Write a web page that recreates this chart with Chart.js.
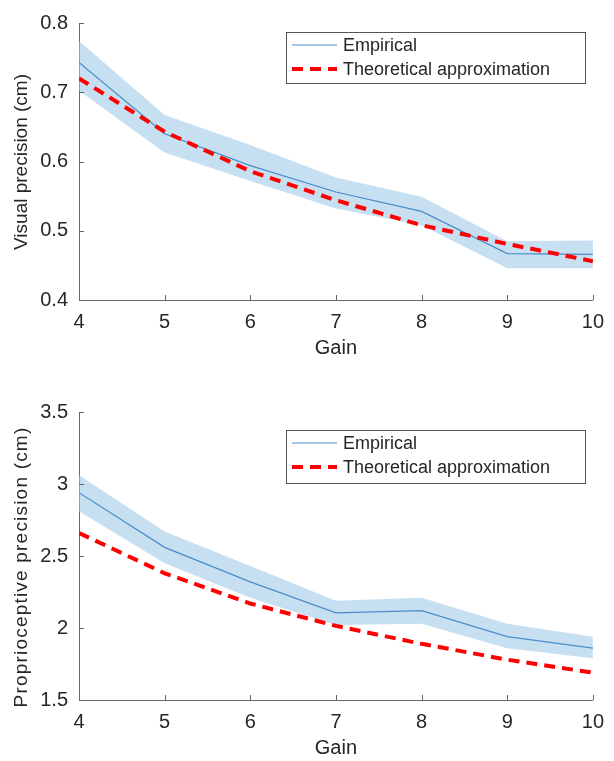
<!DOCTYPE html>
<html>
<head>
<meta charset="utf-8">
<script src="https://cdn.jsdelivr.net/npm/chart.js@4.4.1/dist/chart.umd.min.js"></script>
<style>
  body { margin: 0; background: #fff; }
  canvas { position: absolute; left: 0; }
</style>
</head>
<body>
<canvas id="visualChart" width="614" height="380" style="top:0"></canvas>
<canvas id="propChart" width="614" height="381" style="top:380px"></canvas>
<script>
// gain values on the x axis
const gains = [4, 5, 6, 7, 8, 9, 10]

// visual precision (cm)
const visualEmpirical = [0.743, 0.640, 0.594, 0.556, 0.528, 0.467, 0.466]
const visualUpper = [0.774, 0.667, 0.624, 0.577, 0.549, 0.485, 0.486]
const visualLower = [0.702, 0.613, 0.572, 0.532, 0.508, 0.446, 0.446]
const visualTheory = [0.720, 0.643, 0.586, 0.544, 0.508, 0.481, 0.456]
const visualTicks = [0.4, 0.5, 0.6, 0.7, 0.8]

// proprioceptive precision (cm)
const propEmpirical = [2.94, 2.56, 2.32, 2.105, 2.12, 1.94, 1.86]
const propUpper = [3.06, 2.67, 2.43, 2.19, 2.21, 2.03, 1.94]
const propLower = [2.81, 2.45, 2.21, 2.02, 2.03, 1.86, 1.79]
const propTheory = [2.66, 2.38, 2.17, 2.015, 1.89, 1.78, 1.69]
const propTicks = [1.5, 2, 2.5, 3, 3.5]

const FONT = "'Liberation Sans', Arial, sans-serif"
const TEXT = '#262626'
const AXIS = '#666'

const pts = ys => ys.map((y, i) => ({ x: gains[i], y: y }))

// tick marks pointing inward, like the original
const innerTicks = {
    id: 'innerTicks',
    afterDatasetsDraw(chart) {
        const c = chart.ctx
        const xs = chart.scales.x
        const ys = chart.scales.y
        c.save()
        c.strokeStyle = AXIS
        c.lineWidth = 1
        c.beginPath()
        xs.ticks.forEach(t => {
            const px = Math.round(xs.getPixelForValue(t.value)) + 0.5
            c.moveTo(px, ys.bottom)
            c.lineTo(px, ys.bottom - 5)
        })
        ys.ticks.forEach(t => {
            const py = Math.round(ys.getPixelForValue(t.value)) + 0.5
            c.moveTo(xs.left, py)
            c.lineTo(xs.left + 5, py)
        })
        c.stroke()
        c.restore()
    }
}

// rotated y title, placed by hand
const yTitle = {
    id: 'yTitle',
    afterDraw(chart, args, opts) {
        const c = chart.ctx
        c.save()
        c.translate(opts.x, opts.y)
        c.rotate(-Math.PI / 2)
        c.font = '19px ' + FONT
        c.fillStyle = TEXT
        c.letterSpacing = (opts.spacing || 0) + 'px'
        c.textAlign = 'center'
        c.textBaseline = 'middle'
        c.fillText(opts.text, 0, 0)
        c.restore()
    }
}

// boxed legend in the upper right of the plot
const boxLegend = {
    id: 'boxLegend',
    afterDraw(chart, args, opts) {
        const c = chart.ctx
        c.save()
        c.fillStyle = '#fff'
        c.fillRect(opts.x, opts.y, opts.w, opts.h)
        c.strokeStyle = '#555'
        c.lineWidth = 1
        c.strokeRect(opts.x + 0.5, opts.y + 0.5, opts.w, opts.h)
        const items = chart.data.datasets.filter(d => d.label)
        items.reverse().forEach((d, i) => {
            const cy = opts.y + 13 + i * 24
            c.beginPath()
            c.strokeStyle = d.borderColor
            c.lineWidth = d.borderWidth
            c.setLineDash(d.borderDash || [])
            c.moveTo(opts.x + 6, cy)
            c.lineTo(opts.x + 51, cy)
            c.stroke()
            c.setLineDash([])
            c.fillStyle = TEXT
            c.font = '18px ' + FONT
            c.textBaseline = 'middle'
            c.fillText(d.label, opts.x + 57, cy + 1)
        })
        c.restore()
    }
}

const makeChart = (el, cfg) => new Chart(document.getElementById(el), {
    type: 'line',
    data: {
        datasets: [
            {
                label: 'Theoretical approximation',
                data: pts(cfg.theory),
                borderColor: '#ff0000',
                borderWidth: 4,
                borderDash: [11, 7],
                pointRadius: 0,
                fill: false
            },
            {
                label: 'Empirical',
                data: pts(cfg.empirical),
                borderColor: '#4a8cc8',
                borderWidth: 1.2,
                pointRadius: 0,
                fill: false
            },
            {
                data: pts(cfg.upper),
                borderWidth: 0,
                borderColor: 'rgba(0,0,0,0)',
                pointRadius: 0,
                fill: false
            },
            {
                data: pts(cfg.lower),
                borderWidth: 0,
                borderColor: 'rgba(0,0,0,0)',
                backgroundColor: 'rgba(160,204,234,0.6)',
                pointRadius: 0,
                fill: '-1'
            }
        ]
    },
    options: {
        responsive: false,
        animation: false,
        events: [],
        layout: { padding: { top: cfg.top, right: 10, left: 0, bottom: 0 } },
        plugins: {
            legend: { display: false },
            tooltip: { enabled: false },
            yTitle: cfg.yTitle,
            boxLegend: cfg.legend
        },
        scales: {
            x: {
                type: 'linear',
                min: 4,
                max: 10,
                afterBuildTicks: s => { s.ticks = gains.map(v => ({ value: v })) },
                afterFit: s => { s.height = cfg.xHeight },
                grid: { display: false, drawTicks: false },
                border: { display: true, color: AXIS, width: 1 },
                ticks: { color: TEXT, font: { family: FONT, size: 20 }, padding: 10, callback: v => String(v) },
                title: {
                    display: true,
                    text: 'Gain',
                    color: TEXT,
                    font: { family: FONT, size: 20 },
                    padding: { top: 0, bottom: cfg.gainPad }
                }
            },
            y: {
                min: cfg.ticks[0],
                max: cfg.ticks[cfg.ticks.length - 1],
                afterBuildTicks: s => { s.ticks = cfg.ticks.map(v => ({ value: v })) },
                afterFit: s => { s.width = 79 },
                grid: { display: false, drawTicks: false },
                border: { display: true, color: AXIS, width: 1 },
                ticks: { color: TEXT, font: { family: FONT, size: 20 }, padding: 11, callback: v => String(v) }
            }
        }
    },
    plugins: [innerTicks, yTitle, boxLegend]
})

makeChart('visualChart', {
    empirical: visualEmpirical,
    upper: visualUpper,
    lower: visualLower,
    theory: visualTheory,
    ticks: visualTicks,
    top: 13,
    xHeight: 80,
    gainPad: 20,
    yTitle: { text: 'Visual precision (cm)', x: 22, y: 162, spacing: 0 },
    legend: { x: 286, y: 32, w: 299, h: 51 }
})

makeChart('propChart', {
    empirical: propEmpirical,
    upper: propUpper,
    lower: propLower,
    theory: propTheory,
    ticks: propTicks,
    top: 32,
    xHeight: 61,
    gainPad: 1,
    yTitle: { text: 'Proprioceptive precision (cm)', x: 22, y: 187, spacing: 1.2 },
    legend: { x: 286, y: 50, w: 299, h: 53 }
})
</script>
</body>
</html>
